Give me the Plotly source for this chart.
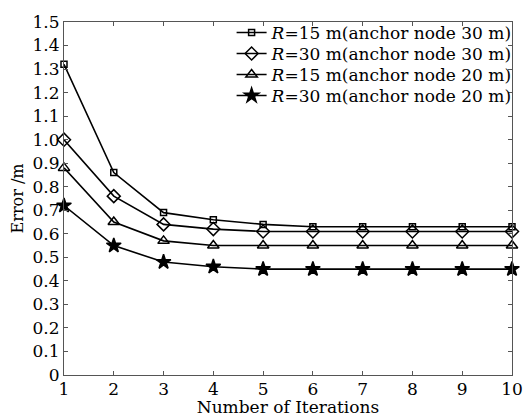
import plotly.graph_objects as go

iterations = [1, 2, 3, 4, 5, 6, 7, 8, 9, 10]
r15_anchor30 = [1.32, 0.86, 0.69, 0.66, 0.64, 0.63, 0.63, 0.63, 0.63, 0.63]
r30_anchor30 = [1.00, 0.76, 0.64, 0.62, 0.61, 0.61, 0.61, 0.61, 0.61, 0.61]
r15_anchor20 = [0.88, 0.65, 0.57, 0.55, 0.55, 0.55, 0.55, 0.55, 0.55, 0.55]
r30_anchor20 = [0.72, 0.55, 0.48, 0.46, 0.45, 0.45, 0.45, 0.45, 0.45, 0.45]
series_names = [
    "<i>R</i>=15 m(anchor node 30 m)",
    "<i>R</i>=30 m(anchor node 30 m)",
    "<i>R</i>=15 m(anchor node 20 m)",
    "<i>R</i>=30 m(anchor node 20 m)",
]
y_tick_vals = [0, 0.1, 0.2, 0.3, 0.4, 0.5, 0.6, 0.7, 0.8, 0.9, 1.0, 1.1, 1.2, 1.3, 1.4, 1.5]
y_tick_text = ["0", "0.1", "0.2", "0.3", "0.4", "0.5", "0.6", "0.7", "0.8", "0.9",
               "1.0", "1.1", "1.2", "1.3", "1.4", "1.5"]

FONT = "DejaVu Serif"
fig = go.Figure()
styles = [
    dict(symbol="square-open", size=6),
    dict(symbol="diamond-open", size=10),
    dict(symbol="triangle-up-open", size=10),
    dict(symbol="star", size=11),
]
legend_ids = ["legend", "legend2", "legend3", "legend4"]
for name, ys, st, lg in zip(series_names, [r15_anchor30, r30_anchor30, r15_anchor20, r30_anchor20],
                            styles, legend_ids):
    fig.add_trace(go.Scatter(
        x=iterations, y=ys, name=name, mode="lines+markers",
        line=dict(color="black", width=1.6),
        marker=dict(symbol=st["symbol"], size=st["size"], color="black",
                    line=dict(color="black", width=1.5)),
        cliponaxis=False, legend=lg,
    ))

axis_common = dict(
    showline=True, linecolor="#555", linewidth=1.2, mirror="ticks",
    ticks="inside", ticklen=4, tickcolor="#555", showgrid=False, zeroline=False,
    tickfont=dict(family=FONT, size=17, color="black"),
)
PLOT_H = 353
row_step = 21 / PLOT_H
legend_common = dict(x=1.0125, xanchor="right", yanchor="middle", bgcolor="rgba(0,0,0,0)",
                     font=dict(family=FONT, size=17), borderwidth=0)
legends = {}
for i, lg in enumerate(legend_ids):
    legends[lg] = dict(y=(PLOT_H - 11) / PLOT_H - i * row_step, **legend_common)

fig.update_layout(
    width=524, height=417,
    margin=dict(l=64, r=12, t=22, b=42, autoexpand=False),
    paper_bgcolor="white", plot_bgcolor="white",
    font=dict(family=FONT, size=17, color="black"),
    xaxis=dict(range=[1, 10], tickvals=iterations, ticklabelstandoff=-2,
               title=dict(text="Number of Iterations", font=dict(family=FONT, size=17), standoff=0),
               **axis_common),
    yaxis=dict(range=[0, 1.5], tickvals=y_tick_vals, ticktext=y_tick_text, ticklabelstandoff=0,
               title=dict(text="Error /m", font=dict(family=FONT, size=16), standoff=4),
               **axis_common),
    showlegend=True,
    **legends,
)
fig.write_html("out.html", config={"displayModeBar": False},
               post_script="document.body.style.margin='0';document.body.style.overflow='hidden';")
